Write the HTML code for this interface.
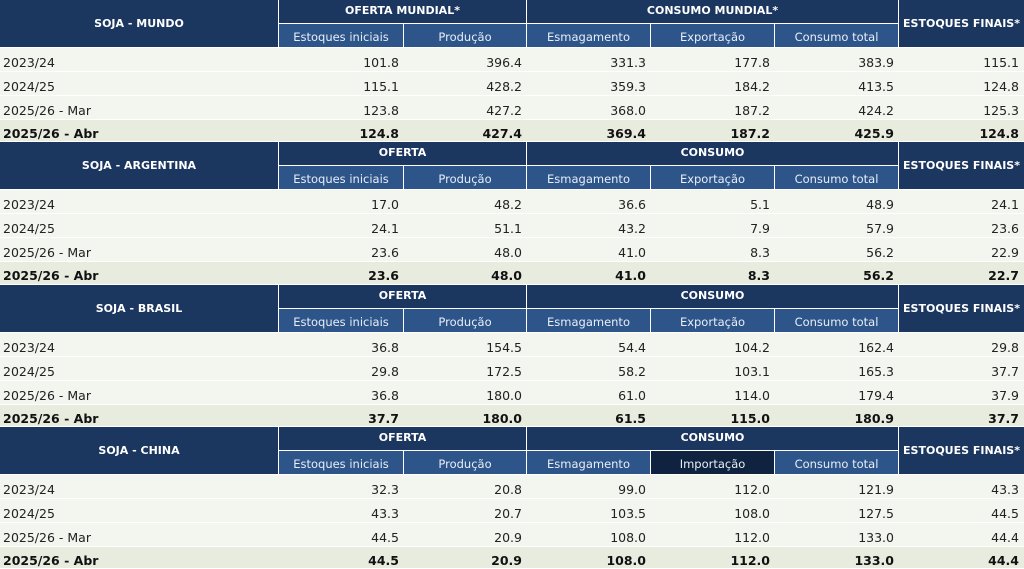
<!DOCTYPE html>
<html><head><meta charset="utf-8">
<style>
body{margin:0;width:1024px;height:569px;background:#fff;overflow:hidden;font-family:"DejaVu Sans","Liberation Sans",sans-serif;}
.c{position:absolute;box-sizing:border-box;display:flex;align-items:center;white-space:nowrap;overflow:hidden}
.h{background:#1b365f;color:#fff;font-weight:bold;font-size:11px;justify-content:center}
.h.g{padding-bottom:3px}
.s{background:#2d558a;color:#e8eef7;font-size:11.5px;justify-content:center;padding-top:2px}
.s.dk{background:#0f2340}
.d{background:#f3f5ef;color:#222;font-size:12.5px;justify-content:flex-end;padding-right:5px;padding-top:5px}
.d.l{justify-content:flex-start;padding-left:3px}
.d.b{background:#e8ecdf;font-weight:bold;color:#111}
</style></head><body>
<div id="t"></div>
<script>
const blocks=["SOJA - MUNDO","SOJA - ARGENTINA","SOJA - BRASIL","SOJA - CHINA"];
const groupA=["OFERTA MUNDIAL*","OFERTA","OFERTA","OFERTA"];
const groupB=["CONSUMO MUNDIAL*","CONSUMO","CONSUMO","CONSUMO"];
const sub2=["Exportação","Exportação","Exportação","Importação"];
const rowLabels=["2023/24","2024/25","2025/26 - Mar","2025/26 - Abr"];
const vals=[
[["101.8","396.4","331.3","177.8","383.9","115.1"],["115.1","428.2","359.3","184.2","413.5","124.8"],["123.8","427.2","368.0","187.2","424.2","125.3"],["124.8","427.4","369.4","187.2","425.9","124.8"]],
[["17.0","48.2","36.6","5.1","48.9","24.1"],["24.1","51.1","43.2","7.9","57.9","23.6"],["23.6","48.0","41.0","8.3","56.2","22.9"],["23.6","48.0","41.0","8.3","56.2","22.7"]],
[["36.8","154.5","54.4","104.2","162.4","29.8"],["29.8","172.5","58.2","103.1","165.3","37.7"],["36.8","180.0","61.0","114.0","179.4","37.9"],["37.7","180.0","61.5","115.0","180.9","37.7"]],
[["32.3","20.8","99.0","112.0","121.9","43.3"],["43.3","20.7","103.5","108.0","127.5","44.5"],["44.5","20.9","108.0","112.0","133.0","44.4"],["44.5","20.9","108.0","112.0","133.0","44.4"]]
];
const X=[0,279,404,527,651,775,899,1024];
const T=document.getElementById('t');
function cell(cls,x,y,w,h,txt,name){
  const e=document.createElement('div');
  e.className='c '+cls;
  e.style.left=x+'px';e.style.top=y+'px';e.style.width=w+'px';e.style.height=h+'px';
  e.textContent=txt;
  
  
  T.appendChild(e);
}
blocks.forEach((b,bi)=>{
  const y0=Math.round(bi*142.3);
  cell('h',0,y0,X[1]-1,47,b,'block-title');
  cell('h g',X[1],y0,X[3]-X[1]-1,23,groupA[bi],'supply-header');
  cell('h g',X[3],y0,X[6]-X[3]-1,23,groupB[bi],'consumption-header');
  cell('h',X[6],y0,X[7]-X[6],47,'ESTOQUES FINAIS*','ending-stocks-header');
  const subs=["Estoques iniciais","Produção","Esmagamento",sub2[bi],"Consumo total"];
  subs.forEach((s,i)=>{
    cell('s'+(s==="Importação"?' dk':''),X[i+1],y0+24,X[i+2]-X[i+1]-1,23,s,'subheader');
  });
  rowLabels.forEach((r,ri)=>{
    const y=y0+48+ri*24, h=ri==3?Math.round((bi+1)*142.3)-y-1:23;
    const bold=ri==3?' b':'';
    cell('d l'+bold,0,y,X[1],h,r,'row-label');
    vals[bi][ri].forEach((v,ci)=>{
      cell('d'+bold,X[ci+1],y,X[ci+2]-X[ci+1],h,v,'value-cell');
    });
  });
});
</script>
</body></html>
